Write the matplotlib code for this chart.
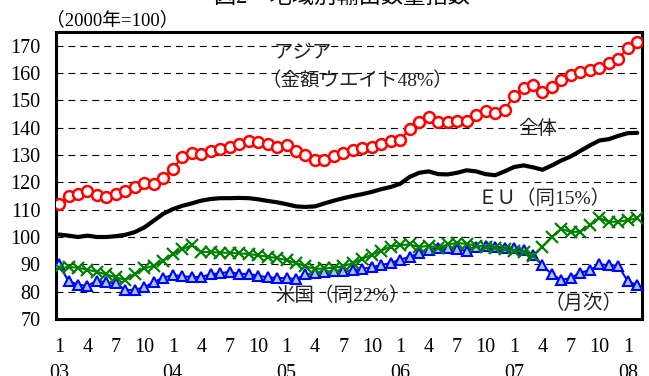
import numpy as np
import matplotlib
matplotlib.use("Agg")
import matplotlib.pyplot as plt

plt.rcParams['font.family'] = ['Liberation Serif', 'Noto Sans CJK JP']
plt.rcParams['lines.scale_dashes'] = False

# monthly index, 2003/01 - 2008/02 (2000 = 100)
asia = [112.0, 115.0, 115.9, 117.0, 115.3, 114.6, 115.9, 116.8, 118.3, 119.7,
        119.3, 121.6, 125.0, 129.2, 130.7, 130.5, 131.4, 132.3, 133.1, 134.1,
        135.0, 134.8, 134.0, 133.1, 133.6, 131.4, 129.9, 128.0, 128.3, 129.5,
        130.7, 131.9, 132.5, 133.1, 133.9, 135.0, 135.6, 139.5, 142.0, 144.0,
        142.2, 142.0, 142.5, 142.6, 144.5, 146.0, 145.5, 146.4, 151.6, 154.6,
        155.6, 153.0, 154.7, 157.3, 159.4, 160.5, 161.1, 162.0, 163.5, 165.2,
        169.2, 171.2]
total = [100.9, 100.5, 100.0, 100.5, 100.0, 100.0, 100.3, 100.8, 101.8, 103.5,
         106.0, 108.5, 110.2, 111.4, 112.3, 113.3, 113.9, 114.2, 114.2, 114.3,
         114.2, 113.8, 113.2, 112.7, 112.0, 111.2, 111.0, 111.2, 112.3, 113.3,
         114.2, 115.0, 115.7, 116.5, 117.5, 118.3, 119.5, 122.0, 123.5, 124.0,
         123.0, 122.9, 123.5, 124.4, 124.0, 123.0, 122.6, 124.0, 125.6, 126.2,
         125.5, 124.6, 126.2, 128.0, 129.5, 131.5, 133.5, 135.3, 135.8, 137.0,
         138.0, 138.1]
eu = [88.5, 89.0, 88.8, 88.0, 87.3, 86.3, 85.2, 84.3, 86.5, 88.5,
      89.5, 91.3, 93.8, 95.5, 97.0, 94.5, 94.5, 94.3, 94.2, 94.0,
      93.8, 93.3, 92.8, 92.3, 91.5, 90.5, 89.3, 88.3, 88.5, 88.8,
      89.3, 90.5, 92.0, 93.5, 95.0, 96.5, 97.0, 97.3, 96.3, 96.8,
      96.0, 97.3, 97.8, 97.5, 96.8, 96.5, 96.0, 95.5, 95.0, 94.5,
      93.2, 96.5, 100.0, 103.0, 101.8, 102.0, 104.3, 107.0, 105.5, 105.6,
      106.2, 106.8]
usa = [90.0, 83.8, 82.6, 82.1, 84.0, 83.4, 83.0, 80.6, 80.7, 81.6,
       83.5, 85.1, 86.1, 85.6, 85.4, 85.4, 86.3, 86.8, 87.2, 86.5,
       86.5, 85.8, 85.3, 85.0, 85.0, 84.6, 86.3, 86.8, 87.3, 87.5,
       87.6, 87.8, 88.3, 89.0, 89.7, 90.5, 91.7, 92.8, 94.0, 95.2,
       96.0, 95.8, 95.5, 95.0, 96.5, 96.8, 96.5, 96.0, 95.8, 95.2,
       93.5, 89.6, 86.3, 84.3, 85.0, 87.0, 87.8, 90.0, 89.7, 89.5,
       83.8, 82.4]

months = np.arange(len(asia))
tick_pos = np.arange(0, len(asia), 3)
month_labels = ['1', '4', '7', '10']
years = ['03', '04', '05', '06', '07', '08']

labels = []
for k, p in enumerate(tick_pos):
    m = month_labels[k % 4]
    if m == '1':
        labels.append('1\n' + years[k // 4])
    else:
        labels.append(m)

fig = plt.figure(figsize=(6.49, 3.76), dpi=100)
ax = fig.add_axes([56/649, 1-319/376, 586/649, 287/376])

for v in range(80, 171, 10):
    ax.axhline(v, color='black', lw=0.8, ls=(0, (5, 3.6)), zorder=1)

ax.plot(months, usa, color='#0000FF', lw=1.5, marker='^', ms=7.6,
        mfc='#A4C8EE', mec='#0000FF', mew=1.5, zorder=3)
ax.plot(months, eu, color='#008000', lw=1.5, marker='x', ms=9,
        mew=1.6, zorder=4)
ax.plot(months, total, color='black', lw=3, solid_capstyle='round', zorder=5)
ax.plot(months, asia, color='#FF0000', lw=1.5, marker='o', ms=7.8,
        mfc='white', mec='#FF0000', mew=1.8, zorder=6)

ax.set_xlim(-0.32, 61.5)
ax.set_ylim(70, 175)
ax.set_yticks(range(70, 171, 10))
ax.set_xticks(tick_pos)
ax.set_xticklabels(labels, linespacing=1.5)
ax.tick_params(axis='both', length=0, labelsize=14.5)
ax.tick_params(axis='y', pad=11)
ax.tick_params(axis='x', pad=14)
for s in ax.spines.values():
    s.set_linewidth(2.2)

txt = dict(fontsize=14, color='#222222', va='center', ha='left', zorder=7)
ax.text(22.6, 167.0, 'アジア', **txt)
ax.text(21.4, 157.2, '（金額ウエイト48%）', **txt)
ax.text(48.4, 139.7, '全体', **txt)
ax.text(44.2, 114.2, 'ＥＵ（同15%）', **txt)
ax.text(22.8, 78.4, '米国（同22%）', **txt)
ax.text(51.2, 75.5, '（月次）', **txt)

fig.text(46/649, 1-20/376, '（2000年=100）', fontsize=13.5, va='center', ha='left')
fig.text(342/649, 1-3/376, '図2　地域別輸出数量指数', fontsize=16,
         va='baseline', ha='center')

fig.savefig('out.png', dpi=100)
